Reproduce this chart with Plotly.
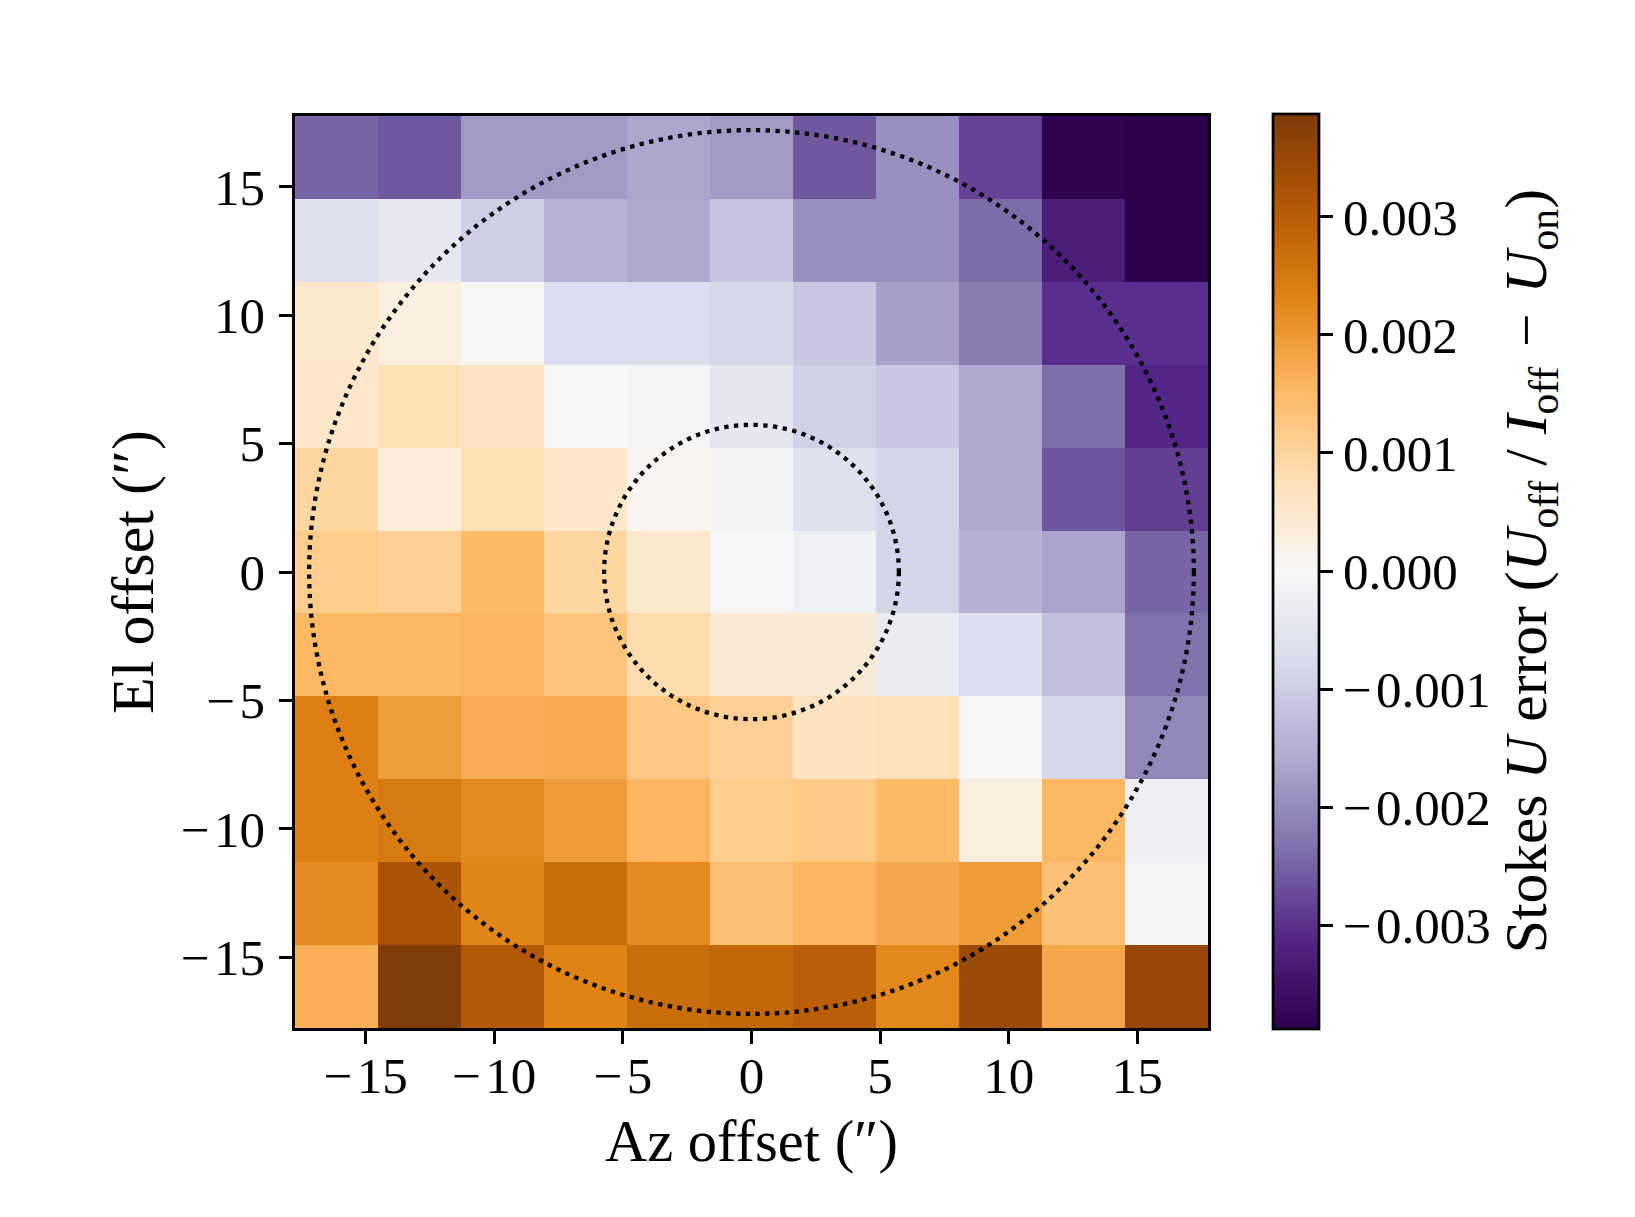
import plotly.graph_objects as go

az_offsets = [-16.135, -12.908, -9.681, -6.454, -3.227, 0.0, 3.227, 6.454, 9.681, 12.908, 16.135]
el_offsets = [16.135, 12.908, 9.681, 6.454, 3.227, 0.0, -3.227, -6.454, -9.681, -12.908, -16.135]

# Stokes U error, in units of 1e-3, top row (El = +16) first
row_p16 = [-2.48, -2.60, -1.80, -1.80, -1.63, -1.80, -2.60, -1.92, -2.82, -3.83, -3.87]
row_p13 = [-0.62, -0.42, -0.97, -1.43, -1.59, -1.12, -1.94, -1.94, -2.40, -3.29, -3.87]
row_p10 = [0.50, 0.30, 0.02, -0.66, -0.66, -0.81, -1.08, -1.70, -2.21, -3.02, -3.02]
row_p06 = [0.54, 0.77, 0.62, 0.01, -0.08, -0.46, -0.93, -1.08, -1.59, -2.36, -3.13]
row_p03 = [0.97, 0.35, 0.77, 0.54, 0.08, -0.12, -0.58, -0.85, -1.59, -2.63, -2.86]
row_000 = [1.16, 1.08, 1.51, 0.97, 0.50, -0.02, -0.20, -0.85, -1.47, -1.66, -2.48]
row_m03 = [1.55, 1.55, 1.59, 1.32, 0.85, 0.39, 0.43, -0.31, -0.66, -1.20, -2.32]
row_m06 = [2.40, 1.94, 1.70, 1.74, 1.24, 1.08, 0.66, 0.74, 0.04, -0.81, -2.05]
row_m10 = [2.40, 2.48, 2.21, 1.97, 1.59, 1.16, 1.20, 1.51, 0.27, 1.55, -0.23]
row_m13 = [2.21, 3.21, 2.28, 2.71, 2.21, 1.39, 1.59, 1.78, 1.97, 1.39, -0.08]
row_m16 = [1.66, 3.87, 3.10, 2.32, 2.71, 2.83, 2.98, 2.24, 3.48, 1.78, 3.52]
rows = [row_p16, row_p13, row_p10, row_p06, row_p03, row_000,
        row_m03, row_m06, row_m10, row_m13, row_m16]

axis_ticks = [-15, -10, -5, 0, 5, 10, 15]
axis_ticktext = ["\u2212\u200a15", "\u2212\u200a10", "\u2212\u200a5", "0", "5", "10", "15"]
cbar_ticks = [-3, -2, -1, 0, 1, 2, 3]
cbar_ticktext = ["\u2212\u200a0.003", "\u2212\u200a0.002", "\u2212\u200a0.001", "0.000", "0.001", "0.002", "0.003"]
beam_radii = [17.2, 5.73]
color_limit = 3.873
axis_limit = 17.75

puor_r = ["#2d004b", "#542788", "#8073ac", "#b2abd2", "#d8daeb", "#f7f7f7",
          "#fee0b6", "#fdb863", "#e08214", "#b35806", "#7f3b08"]
colorscale = [[i / 10, c] for i, c in enumerate(puor_r)]

FONT = "Liberation Serif"
TICK = 51
LABEL = 58.5
LW = 2.7

fig = go.Figure(go.Heatmap(
    x=az_offsets, y=el_offsets, z=rows,
    zmin=-color_limit, zmax=color_limit, colorscale=colorscale, zsmooth=False,
    colorbar=dict(
        thicknessmode="pixels", thickness=46, lenmode="pixels", len=915,
        x=1.0717, xanchor="left", y=0.501, yanchor="middle", xpad=0, ypad=0,
        outlinecolor="black", outlinewidth=LW,
        tickmode="array", tickvals=cbar_ticks, ticktext=cbar_ticktext,
        ticks="outside", ticklen=13, tickwidth=LW, tickcolor="black",
        tickfont=dict(family=FONT, size=TICK, color="black"),
        title=dict(
            text="Stokes <i>U</i> error (<i>U</i><sub>off</sub> / <i>I</i><sub>off</sub> \u200a\u2212\u200a <i>U</i><sub>on</sub>)",
            side="right", font=dict(family=FONT, size=59.5, color="black")),
    ),
))

for r in beam_radii:
    fig.add_shape(type="circle", xref="x", yref="y", x0=-r, x1=r, y0=-r, y1=r,
                  line=dict(color="black", width=4.3, dash="4.3px,5.5px"), layer="above")

axis_common = dict(
    tickmode="array", tickvals=axis_ticks, ticktext=axis_ticktext,
    range=[-axis_limit, axis_limit], showgrid=False, zeroline=False,
    showline=True, mirror=True, linecolor="black", linewidth=LW,
    ticks="outside", ticklen=13, tickwidth=LW, tickcolor="black",
    tickfont=dict(family=FONT, size=TICK, color="black"),
)
fig.update_xaxes(ticklabelstandoff=-12,
                 title=dict(text="Az offset (\u2033)", font=dict(family=FONT, size=LABEL, color="black"), standoff=18), **axis_common)
fig.update_yaxes(ticklabelstandoff=4,
                 title=dict(text="El offset (\u2033)", font=dict(family=FONT, size=60, color="black"), standoff=8), **axis_common)

fig.update_layout(
    width=1635, height=1217, autosize=False,
    margin=dict(l=295, r=427, t=116, b=189, autoexpand=False),
    paper_bgcolor="white", plot_bgcolor="white",
    font=dict(family=FONT, color="black"),
)
fig.write_html("out.html", post_script="document.body.style.margin='0';",
               config=dict(displayModeBar=False))
